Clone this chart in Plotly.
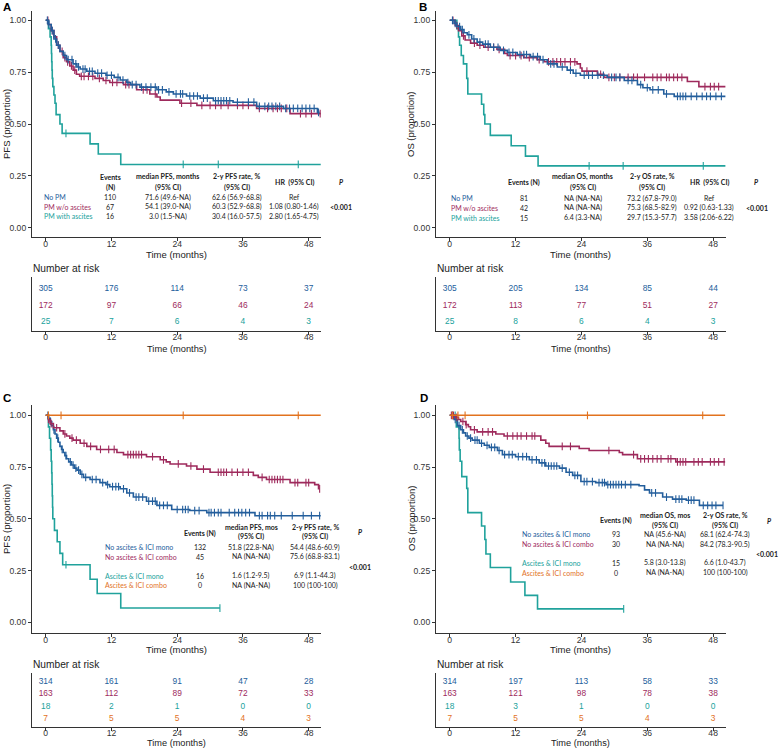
import plotly.graph_objects as go

W, H = 781, 748
BLUE = "#235E9C"
MAROON = "#9E2A5C"
TEAL = "#20A29C"
ORANGE = "#E2721E"
AXC = "#333333"
TF = "Lato, Carlito, Liberation Sans, sans-serif"
AF = "Liberation Sans, Arial, sans-serif"

TICKS = [0, 12, 24, 36, 48]
YTICKS = [0, 0.25, 0.5, 0.75, 1.0]
YTICKTEXT = ["0.00", "0.25", "0.50", "0.75", "1.00"]

# ---------------- Panel A (PFS) ----------------
A_nopm_t = [0, 0.5, 1.0, 1.5, 2.0, 2.6, 3.2, 3.8, 5.0, 5.7, 6.3, 7.5, 9.0, 11.0, 12.5, 13.6, 14.8, 15.5, 17.2, 20.3, 22.0, 23.3, 25.7, 28.2, 30.6, 34.2, 38.5, 43.4, 49.6, 50.0]
A_nopm_s = [1.0, 0.98, 0.95, 0.91, 0.88, 0.85, 0.83, 0.81, 0.79, 0.775, 0.765, 0.754, 0.745, 0.735, 0.725, 0.712, 0.70, 0.69, 0.678, 0.665, 0.655, 0.645, 0.635, 0.625, 0.612, 0.605, 0.585, 0.575, 0.556, 0.556]
A_nopm_c = [0.3, 0.6, 1.2, 1.8, 2.3, 3.5, 4.1, 4.8, 5.5, 6.0, 6.8, 7.2, 8.0, 8.5, 9.5, 10.2, 11.2, 12.0, 13.2, 14.1, 15.0, 15.8, 16.5, 17.5, 18.3, 19.2, 20.0, 20.6, 21.3, 22.5, 23.8, 24.6, 25.0, 26.3, 27.0, 27.7, 28.8, 29.5, 31.0, 31.5, 32.0, 32.5, 33.0, 33.6, 35.0, 37.0, 38.0, 39.0, 40.0, 40.7, 41.3, 42.0, 42.7, 43.8, 44.5, 45.2, 46.0, 46.8, 47.5, 48.2, 49.0, 49.8]

A_pm_t = [0, 0.5, 1.0, 1.5, 2.0, 2.6, 3.2, 3.8, 4.4, 5.0, 5.6, 6.2, 9.0, 10.5, 11.7, 14.2, 16.6, 19.0, 20.3, 20.9, 24.5, 27.6, 38.5, 44.6, 50.2]
A_pm_s = [1.0, 0.98, 0.95, 0.92, 0.88, 0.85, 0.82, 0.80, 0.78, 0.76, 0.74, 0.73, 0.72, 0.71, 0.70, 0.69, 0.665, 0.645, 0.63, 0.615, 0.60, 0.59, 0.575, 0.55, 0.55]
A_pm_c = [0.4, 1.2, 2.3, 3.0, 3.5, 4.0, 4.7, 5.3, 6.5, 7.0, 7.8, 8.6, 9.8, 11.0, 12.2, 13.0, 14.6, 15.2, 17.8, 18.5, 20.0, 24.8, 26.5, 28.5, 30.0, 31.0, 32.0, 33.3, 35.0, 36.0, 37.0, 39.0, 40.5, 41.5, 42.3, 43.0, 44.0, 46.5, 47.5, 48.5, 50.1]

A_asc_t = [0, 0.5, 0.8, 1.0, 1.05, 1.1, 1.15, 1.2, 1.3, 1.5, 1.7, 1.9, 2.6, 3.0, 8.1, 9.6, 13.7, 50.2]
A_asc_s = [1.0, 0.96, 0.92, 0.88, 0.84, 0.80, 0.76, 0.72, 0.68, 0.64, 0.60, 0.545, 0.50, 0.455, 0.404, 0.355, 0.305, 0.305]
A_asc_c = [3.7, 25.1, 31.5, 46.1]

A_names = ["No PM", "PM w/o ascites", "PM with ascites"]
A_events = ["110", "67", "16"]
A_median = ["71.6 (49.6-NA)", "54.1 (39.0-NA)", "3.0 (1.5-NA)"]
A_rate = ["62.6 (56.9-68.8)", "60.3 (52.9-68.8)", "30.4 (16.0-57.5)"]
A_hr = ["Ref", "1.08 (0.80-1.46)", "2.80 (1.65-4.75)"]
A_risk = [["305", "176", "114", "73", "37"], ["172", "97", "66", "46", "24"], ["25", "7", "6", "4", "3"]]

# ---------------- Panel B (OS) ----------------
B_nopm_t = [0, 0.8, 1.3, 2.0, 2.6, 3.2, 4.0, 5.0, 6.0, 7.4, 9.2, 10.5, 12.3, 14.7, 16.5, 17.8, 19.6, 21.4, 22.5, 23.8, 28.7, 31.8, 34.2, 35.2, 36.5, 39.0, 40.9, 50.3]
B_nopm_s = [1.0, 0.985, 0.97, 0.955, 0.94, 0.93, 0.91, 0.895, 0.885, 0.87, 0.855, 0.845, 0.835, 0.825, 0.81, 0.79, 0.775, 0.76, 0.745, 0.735, 0.725, 0.71, 0.69, 0.675, 0.665, 0.645, 0.633, 0.633]
B_nopm_c = [0.5, 1.0, 1.8, 2.3, 3.5, 4.4, 5.5, 6.5, 7.0, 8.0, 8.8, 9.8, 10.8, 11.5, 12.8, 13.5, 14.0, 15.2, 16.0, 17.0, 18.4, 19.0, 20.5, 22.0, 23.0, 24.5, 25.3, 26.0, 27.0, 28.0, 29.5, 30.3, 31.0, 32.5, 33.2, 34.8, 36.0, 37.0, 38.0, 39.5, 41.5, 42.0, 42.5, 43.0, 44.0, 45.0, 46.0, 46.8, 47.5, 48.5, 49.5]

B_pm_t = [0, 1.0, 1.6, 2.2, 2.8, 3.8, 5.0, 6.2, 8.6, 10.0, 10.5, 13.5, 15.9, 17.2, 23.2, 23.8, 24.1, 26.9, 28.1, 43.3, 45.4, 50.3]
B_pm_s = [1.0, 0.975, 0.95, 0.925, 0.905, 0.89, 0.88, 0.87, 0.86, 0.84, 0.83, 0.82, 0.81, 0.80, 0.79, 0.77, 0.755, 0.74, 0.725, 0.705, 0.68, 0.68]
B_pm_c = [0.6, 1.3, 2.5, 4.5, 5.5, 7.0, 8.0, 9.0, 11.0, 12.0, 13.0, 14.5, 16.3, 18.0, 18.8, 19.5, 20.2, 21.0, 22.0, 22.8, 25.0, 27.5, 29.0, 30.0, 31.0, 32.5, 33.5, 34.2, 35.5, 37.0, 37.8, 38.5, 39.5, 40.0, 40.8, 41.5, 42.3, 46.5, 47.5, 48.2, 49.0]

B_asc_t = [0, 1.3, 1.6, 1.8, 2.1, 2.5, 3.1, 3.3, 5.8, 6.2, 6.4, 7.4, 11.2, 13.8, 16.1, 50.3]
B_asc_s = [1.0, 0.96, 0.92, 0.88, 0.83, 0.79, 0.72, 0.645, 0.595, 0.545, 0.50, 0.445, 0.395, 0.345, 0.298, 0.298]
B_asc_c = [25.4, 31.6, 46.2]

B_names = ["No PM", "PM w/o ascites", "PM with ascites"]
B_events = ["81", "42", "15"]
B_median = ["NA (NA-NA)", "NA (NA-NA)", "6.4 (3.3-NA)"]
B_rate = ["73.2 (67.8-79.0)", "75.3 (68.5-82.9)", "29.7 (15.3-57.7)"]
B_hr = ["Ref", "0.92 (0.63-1.33)", "3.58 (2.06-6.22)"]
B_risk = [["305", "205", "134", "85", "44"], ["172", "113", "77", "51", "27"], ["25", "8", "6", "4", "3"]]

# ---------------- Panel C (PFS by ascites & ICI) ----------------
C_mono_t = [0, 0.5, 0.8, 1.1, 1.4, 1.7, 2.0, 2.3, 2.6, 2.9, 3.2, 3.5, 3.8, 4.2, 4.7, 5.2, 5.7, 6.3, 6.9, 8.1, 9.9, 11.0, 11.7, 13.6, 14.8, 16.0, 18.4, 20.3, 23.0, 26.3, 29.4, 38.2, 50.2]
C_mono_s = [1.0, 0.985, 0.97, 0.95, 0.93, 0.91, 0.89, 0.87, 0.85, 0.835, 0.82, 0.805, 0.79, 0.775, 0.76, 0.745, 0.735, 0.715, 0.70, 0.69, 0.675, 0.665, 0.655, 0.645, 0.625, 0.605, 0.585, 0.565, 0.545, 0.54, 0.53, 0.515, 0.515]
C_mono_c = [0.4, 0.9, 1.5, 2.2, 3.0, 3.7, 4.5, 5.0, 5.5, 6.0, 6.6, 7.3, 8.5, 9.2, 10.4, 11.3, 12.2, 12.8, 13.3, 14.2, 15.3, 16.5, 17.0, 17.7, 18.8, 19.5, 20.0, 20.8, 21.5, 22.2, 24.0, 25.0, 25.5, 26.0, 27.2, 28.0, 29.8, 30.2, 30.8, 31.5, 32.0, 33.5, 34.5, 35.2, 35.8, 36.5, 37.2, 39.0, 39.5, 40.5, 41.0, 41.8, 43.0, 45.0, 47.0, 48.5, 50.0]

C_combo_t = [0, 0.5, 0.8, 1.4, 2.6, 3.2, 3.8, 4.4, 5.0, 6.3, 7.5, 9.3, 13.0, 14.2, 18.4, 20.9, 22.0, 22.7, 25.7, 27.6, 30.0, 37.9, 38.8, 40.3, 44.6, 49.1, 49.8, 50.0]
C_combo_s = [1.0, 0.98, 0.96, 0.94, 0.925, 0.91, 0.90, 0.89, 0.88, 0.865, 0.85, 0.835, 0.82, 0.81, 0.80, 0.785, 0.775, 0.765, 0.755, 0.74, 0.725, 0.71, 0.70, 0.69, 0.675, 0.665, 0.645, 0.645]
C_combo_c = [0.5, 1.0, 2.0, 3.5, 4.8, 5.6, 7.0, 8.2, 10.0, 11.5, 12.5, 15.0, 15.5, 16.0, 16.5, 17.0, 17.5, 19.5, 21.5, 24.2, 26.5, 28.8, 31.5, 32.0, 32.5, 33.0, 34.0, 35.0, 36.0, 37.0, 39.5, 40.8, 41.3, 41.8, 42.3, 42.8, 43.3, 45.5, 46.0, 47.5, 48.0, 50.0]

C_ascmono_t = [0, 0.5, 0.7, 0.9, 1.0, 1.1, 1.15, 1.2, 1.25, 1.3, 1.6, 2.1, 2.6, 3.1, 8.1, 9.4, 13.7, 31.8]
C_ascmono_s = [1.0, 0.944, 0.889, 0.833, 0.778, 0.722, 0.667, 0.611, 0.556, 0.50, 0.444, 0.389, 0.333, 0.278, 0.208, 0.139, 0.069, 0.069]
C_ascmono_c = [3.7, 31.8]

C_asccombo_t = [0, 50.2]
C_asccombo_s = [1.0, 1.0]
C_asccombo_c = [0.5, 2.8, 25.1, 46.1]

C_names = ["No ascites & ICI mono", "No ascites & ICI combo", "Ascites & ICI mono", "Ascites & ICI combo"]
C_events = ["132", "45", "16", "0"]
C_median = ["51.8 (22.8-NA)", "NA (NA-NA)", "1.6 (1.2-9.5)", "NA (NA-NA)"]
C_rate = ["54.4 (48.6-60.9)", "75.6 (68.8-83.1)", "6.9 (1.1-44.3)", "100 (100-100)"]
C_risk = [["314", "161", "91", "47", "28"], ["163", "112", "89", "72", "33"], ["18", "2", "1", "0", "0"], ["7", "5", "5", "4", "3"]]

# ---------------- Panel D (OS by ascites & ICI) ----------------
D_mono_t = [0, 0.8, 1.4, 2.0, 2.5, 2.9, 3.5, 4.1, 5.4, 6.3, 7.2, 8.7, 9.6, 12.0, 14.5, 16.3, 17.5, 20.0, 21.2, 22.4, 23.9, 26.6, 28.5, 34.5, 35.5, 36.4, 38.8, 40.6, 43.1, 45.5, 49.8]
D_mono_s = [1.0, 0.98, 0.95, 0.93, 0.915, 0.90, 0.89, 0.88, 0.865, 0.855, 0.845, 0.83, 0.81, 0.80, 0.785, 0.77, 0.755, 0.745, 0.725, 0.71, 0.68, 0.675, 0.665, 0.66, 0.64, 0.625, 0.605, 0.595, 0.59, 0.565, 0.565]
D_mono_c = [0.5, 1.0, 1.7, 2.3, 3.2, 3.8, 4.6, 5.0, 5.8, 6.8, 7.6, 8.2, 9.0, 10.0, 10.8, 11.4, 12.5, 13.3, 14.0, 15.0, 15.8, 16.8, 17.3, 18.0, 18.5, 19.0, 19.5, 20.5, 21.8, 22.8, 23.3, 24.5, 25.0, 26.0, 27.2, 27.8, 28.2, 28.8, 29.3, 29.8, 30.3, 30.8, 31.3, 32.0, 33.0, 36.8, 37.5, 39.5, 41.2, 41.8, 42.3, 43.5, 44.0, 44.5, 46.2, 47.0, 47.8, 48.5, 49.8]

D_combo_t = [0, 1.1, 1.6, 2.0, 2.9, 3.4, 3.8, 5.0, 8.4, 9.9, 16.6, 17.5, 18.1, 23.6, 25.4, 30.9, 31.5, 34.2, 41.2, 50.2]
D_combo_s = [1.0, 0.99, 0.98, 0.97, 0.955, 0.945, 0.93, 0.92, 0.91, 0.90, 0.88, 0.865, 0.85, 0.84, 0.83, 0.82, 0.81, 0.79, 0.775, 0.775]
D_combo_c = [0.3, 0.7, 1.3, 2.4, 3.0, 4.5, 6.0, 7.0, 7.8, 10.5, 11.5, 12.3, 13.0, 14.0, 15.0, 15.5, 20.5, 22.0, 29.0, 33.5, 34.8, 35.5, 36.2, 37.0, 37.8, 38.5, 39.8, 40.3, 41.5, 42.0, 42.5, 43.0, 44.5, 45.3, 46.0, 47.5, 48.2, 49.0, 50.0]

D_ascmono_t = [0, 1.2, 1.7, 1.75, 1.9, 2.2, 3.1, 3.3, 5.8, 6.4, 6.6, 7.4, 11.1, 13.7, 16.0, 31.7]
D_ascmono_s = [1.0, 0.944, 0.889, 0.833, 0.778, 0.704, 0.647, 0.53, 0.465, 0.40, 0.33, 0.265, 0.195, 0.13, 0.065, 0.065]
D_ascmono_c = [1.0, 31.7]

D_asccombo_t = [0, 50.2]
D_asccombo_s = [1.0, 1.0]
D_asccombo_c = [0.5, 1.5, 2.8, 25.1, 46.1]

D_names = ["No ascites & ICI mono", "No ascites & ICI combo", "Ascites & ICI mono", "Ascites & ICI combo"]
D_events = ["93", "30", "15", "0"]
D_median = ["NA (45.6-NA)", "NA (NA-NA)", "5.8 (3.0-13.8)", "NA (NA-NA)"]
D_rate = ["68.1 (62.4-74.3)", "84.2 (78.3-90.5)", "6.6 (1.0-43.7)", "100 (100-100)"]
D_risk = [["314", "197", "113", "58", "33"], ["163", "121", "98", "78", "38"], ["18", "3", "1", "0", "0"], ["7", "5", "5", "4", "3"]]

# ---------------- helpers ----------------
def fx(x):
    return x / W

def fy(y):
    return 1 - y / H

def step_at(ts, ss, t):
    v = ss[0]
    for ti, si in zip(ts, ss):
        if ti <= t:
            v = si
    return v

fig = go.Figure()
layout = {}
annotations = []

def ann(text, x, y, size=7.0, color="#222222", xanchor="center", family=TF, angle=0):
    annotations.append(dict(text=text, x=fx(x), y=fy(y), xref="paper", yref="paper",
                            xanchor=xanchor, yanchor="middle", showarrow=False, textangle=angle,
                            font=dict(size=size, color=color, family=family)))

def axname(i, k):
    return k if i == 1 else f"{k}{i}"

XR = [-2.5, 50.25]
TFONT = dict(size=8.6, family=AF, color="#333")

def main_axes(i, x0, x1, ytop, ybot, yrange):
    layout[axname(i, "xaxis")] = dict(domain=[fx(x0), fx(x1)], range=XR, anchor=axname(i, "y"),
                                       tickvals=TICKS, showline=True, linecolor=AXC, linewidth=1.2,
                                       ticks="outside", ticklen=3, tickcolor=AXC, showgrid=False,
                                       zeroline=False, tickfont=TFONT, ticklabelstandoff=-5)
    layout[axname(i, "yaxis")] = dict(domain=[fy(ybot), fy(ytop)], range=yrange, anchor=axname(i, "x"),
                                       tickvals=YTICKS, ticktext=YTICKTEXT, showline=True, linecolor=AXC,
                                       linewidth=1.2, ticks="outside", ticklen=3, tickcolor=AXC,
                                       showgrid=False, zeroline=False, tickfont=TFONT)

def risk_axes(i, x0, x1, ytop, ybot, yrange):
    layout[axname(i, "xaxis")] = dict(domain=[fx(x0), fx(x1)], range=XR, anchor=axname(i, "y"),
                                       tickvals=TICKS, showline=True, linecolor=AXC, linewidth=1.2,
                                       ticks="outside", ticklen=3, tickcolor=AXC, showgrid=False,
                                       zeroline=False, tickfont=TFONT, ticklabelstandoff=-6)
    layout[axname(i, "yaxis")] = dict(domain=[fy(ybot), fy(ytop)], range=yrange, anchor=axname(i, "x"),
                                       showline=True, linecolor=AXC, linewidth=1.2, showticklabels=False,
                                       ticks="", showgrid=False, zeroline=False)

def curve(i, ts, ss, cs, color):
    xa, ya = axname(i, "x"), axname(i, "y")
    fig.add_trace(go.Scatter(x=ts, y=ss, mode="lines", line=dict(color=color, width=1.6, shape="hv"),
                             xaxis=xa, yaxis=ya, showlegend=False, hoverinfo="skip"))
    fig.add_trace(go.Scatter(x=cs, y=[step_at(ts, ss, c) for c in cs], mode="markers",
                             marker=dict(symbol="line-ns-open", size=5.5, color=color,
                                         line=dict(color=color, width=1.1)),
                             xaxis=xa, yaxis=ya, showlegend=False, hoverinfo="skip"))

def risk(i, rows, colors):
    xa, ya = axname(i, "x"), axname(i, "y")
    n = len(rows)
    for k, (vals, col) in enumerate(zip(rows, colors)):
        fig.add_trace(go.Scatter(x=TICKS, y=[n - k] * len(TICKS), text=vals, mode="text",
                                 textfont=dict(size=8.4, color=col, family=AF),
                                 xaxis=xa, yaxis=ya, showlegend=False, hoverinfo="skip"))

# Geometry (pixels)
LX0, LX1 = 32, 321
RX0, RX1 = 436, 725.5

# ---- Panel A ----
main_axes(1, LX0, LX1, 10.7, 237.3, [-0.0463, 1.0463])
risk_axes(2, LX0, LX1, 277, 331.3, [0.436, 3.727])
curve(1, A_asc_t, A_asc_s, A_asc_c, TEAL)
curve(1, A_pm_t, A_pm_s, A_pm_c, MAROON)
curve(1, A_nopm_t, A_nopm_s, A_nopm_c, BLUE)
risk(2, A_risk, [BLUE, MAROON, TEAL])

# ---- Panel B ----
main_axes(3, RX0, RX1, 10.7, 237.3, [-0.0463, 1.0463])
risk_axes(4, RX0, RX1, 277, 331.3, [0.436, 3.727])
curve(3, B_asc_t, B_asc_s, B_asc_c, TEAL)
curve(3, B_pm_t, B_pm_s, B_pm_c, MAROON)
curve(3, B_nopm_t, B_nopm_s, B_nopm_c, BLUE)
risk(4, B_risk, [BLUE, MAROON, TEAL])

# ---- Panel C ----
main_axes(5, LX0, LX1, 405, 633.3, [-0.0531, 1.0498])
risk_axes(6, LX0, LX1, 673, 727.3, [0.362, 4.694])
curve(5, C_ascmono_t, C_ascmono_s, C_ascmono_c, TEAL)
curve(5, C_mono_t, C_mono_s, C_mono_c, BLUE)
curve(5, C_combo_t, C_combo_s, C_combo_c, MAROON)
curve(5, C_asccombo_t, C_asccombo_s, C_asccombo_c, ORANGE)
risk(6, C_risk, [BLUE, MAROON, TEAL, ORANGE])

# ---- Panel D ----
main_axes(7, RX0, RX1, 405, 633.3, [-0.0531, 1.0498])
risk_axes(8, RX0, RX1, 673, 727.3, [0.362, 4.694])
curve(7, D_ascmono_t, D_ascmono_s, D_ascmono_c, TEAL)
curve(7, D_mono_t, D_mono_s, D_mono_c, BLUE)
curve(7, D_combo_t, D_combo_s, D_combo_c, MAROON)
curve(7, D_asccombo_t, D_asccombo_s, D_asccombo_c, ORANGE)
risk(8, D_risk, [BLUE, MAROON, TEAL, ORANGE])

# ---- Panel letters, axis titles ----
for letter, x, y in [("A", 7, 7), ("B", 423, 7), ("C", 7, 398), ("D", 424, 398)]:
    ann(f"<b>{letter}</b>", x, y, size=11.5, color="#000", family=AF)

for cx in [(LX0 + LX1) / 2, (RX0 + RX1) / 2]:
    ann("Time (months)", cx, 254.0, size=9.5, family=AF)
    ann("Time (months)", cx, 348.6, size=9.3, family=AF)
    ann("Time (months)", cx, 649.7, size=9.5, family=AF)
    ann("Time (months)", cx, 742.8, size=9.2, family=AF)

ann("PFS (proportion)", 6, 124, size=9.5, family=AF, angle=-90)
ann("OS (proportion)", 410, 124, size=9.5, family=AF, angle=-90)
ann("PFS (proportion)", 6, 519, size=9.5, family=AF, angle=-90)
ann("OS (proportion)", 411, 519, size=9.5, family=AF, angle=-90)

for x, y in [(LX0, 268.7), (RX0, 268.7), (LX0, 664.3), (RX0, 664.3)]:
    ann("Number at risk", x - 1, y, size=10.2, family=AF, xanchor="left")

# ---- Table A ----
colsA = dict(name=42.3, ev=110, med=167.7, rate=236.7, hr=294.3, p=341)
ann("<b>Events</b>", colsA["ev"], 177)
ann("<b>(N)</b>", colsA["ev"], 187.7)
ann("<b>median PFS, months</b>", colsA["med"], 177)
ann("<b>(95% CI)</b>", colsA["med"], 187.7)
ann("<b>2-y PFS rate, %</b>", colsA["rate"], 177)
ann("<b>(95% CI)</b>", colsA["rate"], 187.7)
ann("<b>HR  (95% CI)</b>", colsA["hr"], 182.3)
ann("<b><i>P</i></b>", colsA["p"], 182.3)
for k, ry in enumerate([197, 206.7, 216.3]):
    ann(A_names[k], colsA["name"], ry, color=[BLUE, MAROON, TEAL][k], xanchor="left")
    ann(A_events[k], colsA["ev"], ry)
    ann(A_median[k], colsA["med"], ry)
    ann(A_rate[k], colsA["rate"], ry)
    ann(A_hr[k], colsA["hr"], ry)
ann("<b><0.001</b>", colsA["p"], 206.7)

# ---- Table B ----
colsB = dict(name=449, ev=523.7, med=582.7, rate=652.3, hr=709.3, p=756.7)
ann("<b>Events (N)</b>", colsB["ev"], 182.3)
ann("<b>median OS, months</b>", colsB["med"], 177)
ann("<b>(95% CI)</b>", colsB["med"], 187.7)
ann("<b>2-y OS rate, %</b>", colsB["rate"], 177)
ann("<b>(95% CI)</b>", colsB["rate"], 187.7)
ann("<b>HR  (95% CI)</b>", colsB["hr"], 182.3)
ann("<b><i>P</i></b>", colsB["p"], 182.3)
for k, ry in enumerate([198.3, 207.7, 217.7]):
    ann(B_names[k], colsB["name"], ry, color=[BLUE, MAROON, TEAL][k], xanchor="left")
    ann(B_events[k], colsB["ev"], ry)
    ann(B_median[k], colsB["med"], ry)
    ann(B_rate[k], colsB["rate"], ry)
    ann(B_hr[k], colsB["hr"], ry)
ann("<b><0.001</b>", colsB["p"], 207.7)

# ---- Table C ----
colsC = dict(name=102.7, ev=200, med=251, rate=315, p=360)
ann("<b>Events (N)</b>", colsC["ev"], 533)
ann("<b>median PFS, mos</b>", colsC["med"], 527.3)
ann("<b>(95% CI)</b>", colsC["med"], 536.7)
ann("<b>2-y PFS rate, %</b>", colsC["rate"], 527.3)
ann("<b>(95% CI)</b>", colsC["rate"], 536.7)
ann("<b><i>P</i></b>", colsC["p"], 532.3)
for k, ry in enumerate([547.3, 556.7, 575.7, 585]):
    ann(C_names[k], colsC["name"], ry, color=[BLUE, MAROON, TEAL, ORANGE][k], xanchor="left")
    ann(C_events[k], colsC["ev"], ry)
    ann(C_median[k], colsC["med"], ry)
    ann(C_rate[k], colsC["rate"], ry)
ann("<b><0.001</b>", colsC["p"], 566.7)

# ---- Table D ----
colsD = dict(name=520, ev=616, med=665.3, rate=725, p=769.3)
ann("<b>Events (N)</b>", colsD["ev"], 520.7)
ann("<b>median OS, mos</b>", colsD["med"], 515.7)
ann("<b>(95% CI)</b>", colsD["med"], 525)
ann("<b>2-y OS rate, %</b>", colsD["rate"], 515.7)
ann("<b>(95% CI)</b>", colsD["rate"], 525)
ann("<b><i>P</i></b>", colsD["p"], 520.7)
for k, ry in enumerate([534.3, 544.3, 562.7, 572.7]):
    ann(D_names[k], colsD["name"], ry, color=[BLUE, MAROON, TEAL, ORANGE][k], xanchor="left")
    ann(D_events[k], colsD["ev"], ry)
    ann(D_median[k], colsD["med"], ry)
    ann(D_rate[k], colsD["rate"], ry)
ann("<b><0.001</b>", 780, 554.3, xanchor="right")

fig.update_layout(width=W, height=H, margin=dict(l=0, r=0, t=0, b=0),
                  paper_bgcolor="white", plot_bgcolor="white", showlegend=False,
                  annotations=annotations, **layout)
fig.write_html("out.html", config={"displayModeBar": False},
               post_script="document.body.style.margin='0px';document.body.style.overflow='hidden';")
